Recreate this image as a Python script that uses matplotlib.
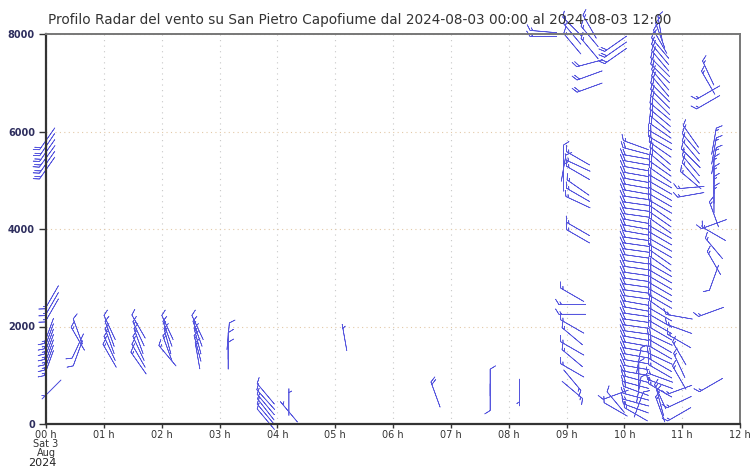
import numpy as np
import matplotlib
matplotlib.use("Agg")
import matplotlib.pyplot as plt

# ---------------- data: (time [h], heights [m], speeds, directions [deg from]) --------------
g01_t = 0.02
g01_z = [5250, 5370, 5490, 5610, 5730, 5850]
g01_s = [20, 20, 20, 20, 20, 20]
g01_d = [215, 215, 216, 215, 214, 215]

g02_t = 0.1
g02_z = [2330, 2460, 2600]
g02_s = [15, 15, 15]
g02_d = [210, 210, 210]

g03_t = 0.05
g03_z = [1250, 1360, 1470, 1580, 1690, 1800, 1910]
g03_s = [15, 15, 15, 15, 15, 15, 15]
g03_d = [200, 200, 200, 200, 200, 200, 200]

g04_t = 0.08
g04_z = [720]
g04_s = [5]
g04_d = [225]

g05_t = 0.55
g05_z = [1450, 1600, 1750, 1900]
g05_s = [10, 10, 15, 10]
g05_d = [200, 205, 330, 340]

g06_t = 1.1
g06_z = [1400, 1550, 1700, 1850, 1980]
g06_s = [15, 15, 15, 10, 10]
g06_d = [330, 335, 340, 340, 335]

g07_t = 1.6
g07_z = [1250, 1400, 1550, 1700, 1850, 2000]
g07_s = [15, 15, 15, 15, 15, 10]
g07_d = [325, 330, 335, 340, 335, 330]

g08_t = 2.1
g08_z = [1400, 1550, 1700, 1850, 1980]
g08_s = [15, 15, 15, 15, 10]
g08_d = [320, 340, 345, 340, 335]

g09_t = 2.62
g09_z = [1400, 1550, 1700, 1850, 1980]
g09_s = [15, 15, 15, 15, 10]
g09_d = [350, 345, 345, 340, 335]

g10_t = 3.15
g10_z = [1400, 1600, 1800]
g10_s = [10, 10, 10]
g10_d = [0, 0, 5]

g11_t = 3.8
g11_z = [100, 200, 300, 400, 500, 620]
g11_s = [10, 10, 10, 10, 10, 10]
g11_d = [320, 320, 322, 320, 318, 320]

g12_t = 4.2
g12_z = [250, 450]
g12_s = [5, 5]
g12_d = [320, 0]

g13_t = 5.15
g13_z = [1780]
g13_s = [5]
g13_d = [350]

g14_t = 6.72
g14_z = [620]
g14_s = [20]
g14_d = [340]

g15_t = 7.68
g15_z = [550, 850]
g15_s = [10, 10]
g15_d = [180, 0]

g16_t = 8.18
g16_z = [650]
g16_s = [5]
g16_d = [180]

g17_t = 8.6
g17_z = [7950, 8050]
g17_s = [15, 15]
g17_d = [270, 275]

g18_t = 9.1
g18_z = [8000, 8150, 7800]
g18_s = [15, 15, 15]
g18_d = [320, 315, 320]

g19_t = 9.4
g19_z = [6900, 7150, 7400, 7700, 7950, 8150]
g19_s = [20, 20, 20, 15, 15, 15]
g19_d = [250, 250, 255, 320, 320, 330]

g20_t = 9.85
g20_z = [7550, 7680, 7800]
g20_s = [20, 20, 20]
g20_d = [235, 235, 235]

g21_t = 8.95
g21_z = [5050, 5250, 5450]
g21_s = [10, 10, 10]
g21_d = [0, 10, 0]

g22_t = 9.2
g22_z = [3850, 4000, 4550, 4700, 4850, 5150, 5300, 5450]
g22_s = [15, 15, 15, 15, 15, 15, 15, 15]
g22_d = [300, 300, 295, 300, 305, 300, 295, 300]

g23_t = 9.1
g23_z = [700, 900, 1100, 1350, 1550, 1800, 2000, 2250, 2450, 2650]
g23_s = [15, 15, 15, 15, 15, 15, 15, 15, 15, 15]
g23_d = [130, 140, 300, 310, 300, 310, 300, 270, 270, 300]

g24_t = 10.2
g24_z = [200, 320, 440, 560, 680, 800, 920, 1040, 1160, 1280, 1400, 1520,
         1640, 1760, 1880, 2000, 2120, 2240, 2360, 2480, 2600, 2720, 2840,
         2960, 3080, 3200, 3320, 3440, 3560, 3680, 3800, 3920, 4040, 4160,
         4280, 4400, 4520, 4640, 4760, 4880, 5000, 5120, 5240, 5360, 5480,
         5600, 5720]
g24_s = [15, 15, 15, 20, 20, 20, 20, 20, 20, 20, 20, 20,
         20, 20, 20, 20, 20, 20, 20, 20, 20, 20, 20,
         20, 20, 20, 20, 20, 20, 20, 20, 20, 20, 20,
         20, 20, 20, 20, 20, 20, 20, 20, 20, 20, 20,
         20, 15]
g24_d = [300, 290, 285, 285, 290, 285, 285, 280, 280, 280, 280, 280,
         280, 280, 278, 278, 278, 278, 280, 280, 278, 278, 278,
         278, 278, 278, 278, 278, 278, 278, 278, 280, 280, 280,
         278, 278, 278, 278, 280, 280, 280, 280, 280, 280, 280,
         285, 290]

g25_t = 10.62
g25_z = [300, 430, 560, 690, 820, 950, 1080, 1210, 1340, 1470, 1600,
         1730, 1860, 1990, 2120, 2250, 2380, 2510, 2640, 2770, 2900,
         3030, 3160, 3290, 3420, 3550, 3680, 3810, 3940, 4070, 4200,
         4330, 4460, 4590, 4720, 4850, 4980, 5110, 5240, 5370, 5500,
         5630, 5760, 5890, 6020, 6150, 6280, 6410, 6540, 6670, 6800,
         6930, 7060, 7190, 7320, 7450, 7580, 7710, 7840, 7970, 8100]
g25_s = [15, 15, 15, 15, 15, 15, 15, 20, 20, 20, 20,
         20, 20, 20, 20, 20, 20, 20, 20, 20, 20,
         20, 20, 20, 20, 20, 20, 20, 20, 20, 20,
         20, 20, 20, 20, 20, 20, 20, 20, 20, 20,
         20, 20, 20, 20, 20, 20, 20, 20, 20, 20,
         20, 20, 20, 20, 20, 20, 15, 15, 15, 15]
g25_d = [340, 345, 335, 300, 290, 290, 300, 300, 295, 300, 300,
         295, 300, 300, 300, 300, 305, 300, 300, 300, 300,
         300, 300, 305, 305, 300, 300, 300, 300, 305, 305,
         305, 300, 300, 300, 300, 300, 305, 305, 310, 310,
         305, 300, 300, 305, 310, 310, 310, 315, 315, 315,
         320, 320, 315, 315, 320, 320, 320, 330, 340, 350]

g26_t = 11.15
g26_z = [4700, 4850, 5000, 5150, 5300, 5450, 5600, 5750, 5900]
g26_s = [15, 15, 15, 15, 15, 15, 15, 15, 15]
g26_d = [260, 265, 310, 320, 320, 315, 320, 320, 325]

g27_t = 11.45
g27_z = [6600, 6800, 7000, 7200]
g27_s = [15, 15, 15, 15]
g27_d = [240, 240, 330, 335]

g28_t = 11.55
g28_z = [3000, 3300, 3600, 3900, 4100, 4300, 4600, 4800, 5000, 5200, 5400, 5600, 5800]
g28_s = [10, 15, 15, 15, 15, 15, 15, 15, 15, 15, 15, 15, 15]
g28_d = [200, 330, 320, 300, 250, 340, 0, 0, 0, 0, 10, 10, 10]

g29_t = 9.85
g29_z = [300, 450, 600]
g29_s = [10, 10, 10]
g29_d = [300, 320, 250]

g30_t = 10.25
g30_z = [400, 700, 1000, 1300]
g30_s = [10, 10, 10, 10]
g30_d = [20, 10, 0, 10]

g31_t = 10.95
g31_z = [200, 450, 700, 950, 1200, 1450, 1700, 1950, 2200]
g31_s = [15, 15, 15, 15, 15, 15, 15, 15, 15]
g31_d = [240, 245, 250, 330, 335, 330, 300, 290, 280]

g32_t = 11.5
g32_z = [800, 2300]
g32_s = [15, 15]
g32_d = [240, 250]

groups = [
    (g01_t, g01_z, g01_s, g01_d), (g02_t, g02_z, g02_s, g02_d),
    (g03_t, g03_z, g03_s, g03_d), (g04_t, g04_z, g04_s, g04_d),
    (g05_t, g05_z, g05_s, g05_d), (g06_t, g06_z, g06_s, g06_d),
    (g07_t, g07_z, g07_s, g07_d), (g08_t, g08_z, g08_s, g08_d),
    (g09_t, g09_z, g09_s, g09_d), (g10_t, g10_z, g10_s, g10_d),
    (g11_t, g11_z, g11_s, g11_d), (g12_t, g12_z, g12_s, g12_d),
    (g13_t, g13_z, g13_s, g13_d), (g14_t, g14_z, g14_s, g14_d),
    (g15_t, g15_z, g15_s, g15_d), (g16_t, g16_z, g16_s, g16_d),
    (g17_t, g17_z, g17_s, g17_d), (g18_t, g18_z, g18_s, g18_d),
    (g19_t, g19_z, g19_s, g19_d), (g20_t, g20_z, g20_s, g20_d),
    (g21_t, g21_z, g21_s, g21_d), (g22_t, g22_z, g22_s, g22_d),
    (g23_t, g23_z, g23_s, g23_d), (g24_t, g24_z, g24_s, g24_d),
    (g25_t, g25_z, g25_s, g25_d), (g26_t, g26_z, g26_s, g26_d),
    (g27_t, g27_z, g27_s, g27_d), (g28_t, g28_z, g28_s, g28_d),
    (g29_t, g29_z, g29_s, g29_d), (g30_t, g30_z, g30_s, g30_d),
    (g31_t, g31_z, g31_s, g31_d), (g32_t, g32_z, g32_s, g32_d),
]

hour_labels = ["00 h\nSat 3\nAug", "01 h", "02 h", "03 h", "04 h", "05 h",
               "06 h", "07 h", "08 h", "09 h", "10 h", "11 h", "12 h"]
year_label = "2024"
y_ticks = [0, 2000, 4000, 6000, 8000]
title = ("Profilo Radar del vento su San Pietro Capofiume dal "
         "2024-08-03 00:00 al 2024-08-03 12:00")

# ---------------- figure --------------
fig = plt.figure(figsize=(7.55, 4.68), dpi=100)
ax = fig.add_axes([46 / 755, 1 - 424 / 468, (740 - 46) / 755, (424 - 34) / 468])
ax.set_xlim(0, 12)
ax.set_ylim(0, 8000)

for t, z, s, d in groups:
    s = np.asarray(s, float)
    d = np.deg2rad(np.asarray(d, float))
    u = -s * np.sin(d)
    v = -s * np.cos(d)
    ax.barbs(np.full(len(z), t), z, u, v, length=6.2, pivot="middle",
             color="#5656de", linewidth=0.5, clip_on=False,
             sizes=dict(height=0.2, spacing=0.1, width=0.25, emptybarb=0.0))

ax.set_xticks(range(13))
ax.set_xticklabels(hour_labels, fontsize=7, color="#333333", linespacing=0.9)
ax.set_yticks(y_ticks)
ax.set_yticklabels([str(y) for y in y_ticks], fontsize=7, color="#2e2e5e",
                   fontweight="bold")
ax.tick_params(axis="y", length=5, width=1, color="#333333", pad=3)
ax.tick_params(axis="x", length=3, width=1, color="#333333", pad=1,
               direction="out")

ax.grid(True, axis="x", linestyle=(0, (1, 4)), color="#c8c8c8", linewidth=0.8)
ax.grid(True, axis="y", linestyle=(0, (1, 3)), color="#e3c9a8", linewidth=0.8)
ax.set_axisbelow(True)

for side in ("left", "bottom"):
    ax.spines[side].set_color("#333333")
    ax.spines[side].set_linewidth(1.6)
for side in ("top", "right"):
    ax.spines[side].set_color("#777777")
    ax.spines[side].set_linewidth(1.4)

fig.text(42 / 755, 1 - 463.5 / 468, year_label, ha="center", va="center",
         fontsize=8, color="#222222")

fig.text(48 / 755, 1 - 20 / 468, title, fontsize=9.8, color="#333333",
         ha="left", va="center")

fig.savefig("out.png", dpi=100)
